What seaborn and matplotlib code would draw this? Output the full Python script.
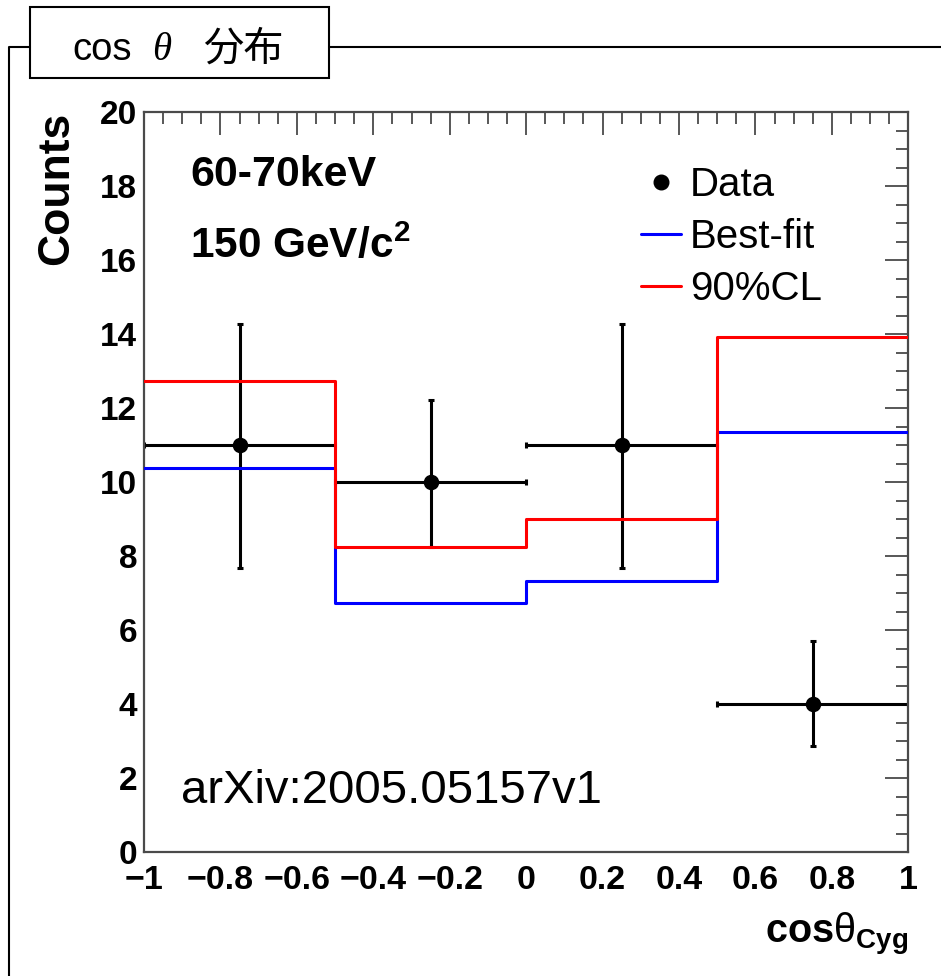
import numpy as np
import pandas as pd
import matplotlib
matplotlib.use("Agg")
import matplotlib.pyplot as plt
import seaborn as sns
from matplotlib.lines import Line2D
from matplotlib.patches import Rectangle
from matplotlib.ticker import FixedLocator, MultipleLocator, FixedFormatter

# ---------------- data ----------------
bin_edges = [-1.0, -0.5, 0.0, 0.5, 1.0]
bin_centers = [-0.75, -0.25, 0.25, 0.75]
data_counts = [11, 10, 11, 4]
data_err_low = [3.33, 1.75, 3.33, 1.14]
data_err_high = [3.26, 2.21, 3.26, 1.71]
best_fit = [10.38, 6.72, 7.32, 11.36]
cl90 = [12.74, 8.25, 9.00, 13.92]
x_ticks = [-1.0, -0.8, -0.6, -0.4, -0.2, 0.0, 0.2, 0.4, 0.6, 0.8, 1.0]
x_tick_labels = ["\u22121", "\u22120.8", "\u22120.6", "\u22120.4", "\u22120.2", "0",
                 "0.2", "0.4", "0.6", "0.8", "1"]
y_ticks = [0, 2, 4, 6, 8, 10, 12, 14, 16, 18, 20]
y_tick_labels = ["0", "2", "4", "6", "8", "10", "12", "14", "16", "18", "20"]
legend_labels = ["Data", "Best-fit", "90%CL"]

df = pd.DataFrame({"center": bin_centers, "counts": data_counts,
                   "best": best_fit, "cl": cl90})

# ---------------- style ----------------
sns.set_style("white")
plt.rcParams["font.family"] = ["Liberation Sans", "DejaVu Sans"]
plt.rcParams["mathtext.fontset"] = "custom"
plt.rcParams["mathtext.rm"] = "Liberation Sans"
plt.rcParams["mathtext.bf"] = "Liberation Sans:bold"
plt.rcParams["mathtext.it"] = "Liberation Sans:italic"
for k in ["text.color", "axes.labelcolor", "xtick.color", "ytick.color"]:
    plt.rcParams[k] = "black"

W, H = 941, 976
fig = plt.figure(figsize=(W / 100, H / 100), dpi=100)
fig.patch.set_facecolor("white")


def px(x, y):
    return (x / W, 1 - y / H)


ax_l, ax_r, ax_t, ax_b = 144, 908.3, 112, 852
ax = fig.add_axes([ax_l / W, 1 - ax_b / H, (ax_r - ax_l) / W, (ax_b - ax_t) / H])

axis_col = "#4a4a4a"

# data points with error bars (below the histograms)
ax.errorbar(df["center"], df["counts"], xerr=0.25,
            yerr=[data_err_low, data_err_high], fmt="none", ecolor="black",
            elinewidth=2.2, capsize=2.0, capthick=2.2, zorder=2)
sns.scatterplot(data=df, x="center", y="counts", color="black", s=125,
                edgecolor="black", linewidth=0, zorder=5, ax=ax, legend=False)

# histograms
sns.histplot(x=bin_centers, weights=best_fit, bins=bin_edges, element="step",
             fill=False, color="#0000ff", linewidth=2.2, ax=ax, zorder=3)
sns.histplot(x=bin_centers, weights=cl90, bins=bin_edges, element="step",
             fill=False, color="#ff0000", linewidth=2.2, ax=ax, zorder=4)

ax.set_xlim(-1, 1)
ax.set_ylim(0, 20)

ax.xaxis.set_major_locator(FixedLocator(x_ticks))
ax.xaxis.set_major_formatter(FixedFormatter(x_tick_labels))
ax.xaxis.set_minor_locator(MultipleLocator(0.05))
ax.yaxis.set_major_locator(FixedLocator(y_ticks))
ax.yaxis.set_major_formatter(FixedFormatter(y_tick_labels))
ax.yaxis.set_minor_locator(MultipleLocator(0.5))

ax.tick_params(which="both", direction="in", top=True, right=True,
               color=axis_col, width=1.3)
ax.tick_params(which="major", length=16.5)
ax.tick_params(which="minor", length=8.3)
ax.tick_params(axis="x", which="major", labelsize=24.5, pad=9.5, labelcolor="black")
ax.tick_params(axis="y", which="major", labelsize=24, pad=5, labelcolor="black")
for lab in ax.get_xticklabels() + ax.get_yticklabels():
    lab.set_fontweight("bold")

for sp in ax.spines.values():
    sp.set_color(axis_col)
    sp.set_linewidth(1.6)

ax.set_ylabel("Counts", fontsize=32, fontweight="bold", loc="top", color="black")
ax.yaxis.set_label_coords(-0.088, 1.0)
ax.set_xlabel(r"$\mathbf{cos}\mathrm{\theta}_{\mathbf{Cyg}}$", fontsize=28.5,
              loc="right", color="black")
ax.xaxis.set_label_coords(1.0, -0.080)

# annotations
ax.text(*px(190, 186), "60-70keV", transform=fig.transFigure, fontsize=31,
        fontweight="bold", va="baseline", ha="left")
ax.text(*px(190, 258), r"$\mathbf{150\ GeV/c^{2}}$", transform=fig.transFigure,
        fontsize=30.5, va="baseline", ha="left")
ax.text(*px(181, 803), "arXiv:2005.05157v1", transform=fig.transFigure,
        fontsize=34, va="baseline", ha="left")

# legend
handles = [
    Line2D([], [], color="black", marker="o", markersize=10.5, linestyle="none"),
    Line2D([], [], color="#0000ff", linewidth=2.2),
    Line2D([], [], color="#ff0000", linewidth=2.2),
]
leg = ax.legend(handles, legend_labels, loc="upper left",
                bbox_to_anchor=(0.650, 0.927), frameon=False, fontsize=29,
                handlelength=1.0, handletextpad=0.22, labelspacing=0.35,
                borderpad=0, borderaxespad=0)
for t in leg.get_texts():
    t.set_color("black")

# outer frame and title box
frame_kw = dict(color="black", linewidth=1.5, transform=fig.transFigure)
x0, y0 = px(9, 976)
x1, y1 = px(9, 46.7)
x2, _ = px(30, 46.7)
fig.add_artist(Line2D([x0, x1, x2], [y0, y1, y1], **frame_kw))
x3, _ = px(329, 46.7)
fig.add_artist(Line2D([x3, 1.0], [y1, y1], **frame_kw))
bx, by = px(30, 78)
fig.add_artist(Rectangle((bx, by), (329 - 30) / W, (78 - 7) / H,
                         transform=fig.transFigure, facecolor="white",
                         edgecolor="black", linewidth=1.5))
fig.text(*px(72, 60), "cos", fontsize=27.5, va="baseline", ha="left", color="black")
fig.text(*px(152, 60), "\u03b8", fontsize=28, style="italic", va="baseline", ha="left",
         color="black", family=["Liberation Serif", "DejaVu Serif"])
fig.text(*px(203, 61), "分布", fontsize=29, va="baseline", ha="left", color="black",
         family=["Noto Sans CJK JP", "DejaVu Sans"])

fig.savefig("out.png", dpi=100, facecolor="white")
